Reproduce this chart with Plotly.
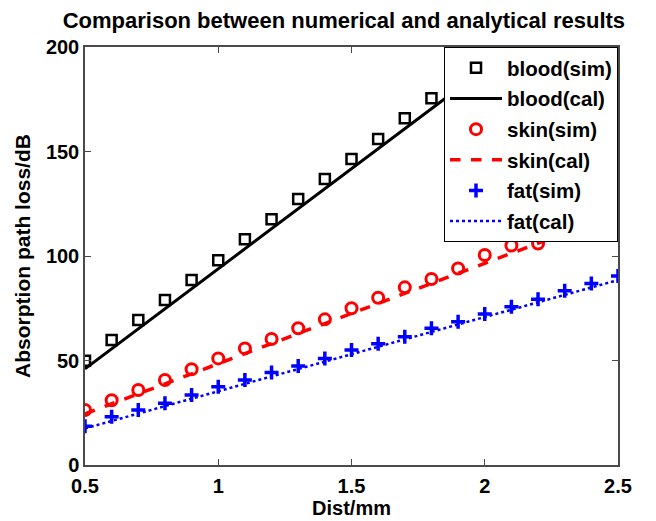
import plotly.graph_objects as go

dist = [0.5, 0.6, 0.7, 0.8, 0.9, 1.0, 1.1, 1.2, 1.3, 1.4, 1.5, 1.6, 1.7, 1.8, 1.9, 2.0, 2.1, 2.2, 2.3, 2.4, 2.5]

blood_sim = [49.9, 59.8, 69.4, 79.0, 88.5, 98.0, 108.0, 117.6, 127.3, 136.8, 146.4, 156.0, 165.9, 175.5, 185.3, 195.0]
blood_cal = [46.0, 55.6, 65.1, 74.7, 84.3, 93.9, 103.4, 113.0, 122.6, 132.1, 141.7, 151.3, 160.8, 170.4, 180.0, 189.6, 199.1, 208.7]
skin_sim = [26.3, 31.0, 35.9, 40.7, 45.8, 51.0, 55.8, 60.3, 65.4, 69.7, 75.0, 80.0, 85.0, 89.0, 94.0, 100.5, 105.0, 106.0, 110.0, 113.0, 117.0]
skin_cal = [24.5, 29.2, 34.0, 38.8, 43.6, 48.5, 53.3, 58.1, 62.9, 67.7, 72.5, 77.3, 82.1, 86.9, 91.7, 96.5, 101.3, 106.1, 110.9, 115.7, 120.5]
fat_sim = [18.5, 23.1, 26.3, 29.5, 33.5, 37.5, 40.7, 44.2, 47.4, 51.0, 55.0, 58.0, 61.4, 65.4, 68.6, 72.2, 75.7, 79.3, 83.4, 86.9, 90.4]
fat_cal = [17.5, 21.1, 24.6, 28.2, 31.7, 35.3, 38.8, 42.4, 45.9, 49.5, 53.0, 56.6, 60.1, 63.7, 67.2, 70.8, 74.3, 77.9, 81.4, 85.0, 88.5]

x_ticks = [0.5, 1, 1.5, 2, 2.5]
x_tick_text = ["0.5", "1", "1.5", "2", "2.5"]
y_ticks = [0, 50, 100, 150, 200]

FONT = "Liberation Sans"
AXC = "#4a4a4a"

fig = go.Figure()
fig.add_trace(go.Scatter(x=dist[:len(blood_sim)], y=blood_sim, mode="markers", name="blood(sim)",
                         legendgroup="a",
                         marker=dict(symbol="square-open", size=10, color="black", line=dict(width=2.5, color="black"))))
fig.add_trace(go.Scatter(x=dist[:len(blood_cal)], y=blood_cal, mode="lines", name="blood(cal)",
                         legendgroup="b",
                         line=dict(color="black", width=3)))
fig.add_trace(go.Scatter(x=dist, y=skin_sim, mode="markers", name="skin(sim)",
                         legendgroup="c",
                         marker=dict(symbol="circle-open", size=11, color="red", line=dict(width=3, color="red"))))
fig.add_trace(go.Scatter(x=dist, y=skin_cal, mode="lines", name="skin(cal)",
                         legendgroup="d",
                         line=dict(color="red", width=3.5, dash="dash")))
fig.add_trace(go.Scatter(x=dist, y=fat_sim, mode="markers", name="fat(sim)",
                         legendgroup="e",
                         marker=dict(symbol="cross-thin-open", size=10, color="blue", line=dict(width=3.5, color="blue"))))
fig.add_trace(go.Scatter(x=dist, y=fat_cal, mode="lines", name="fat(cal)",
                         legendgroup="f",
                         line=dict(color="blue", width=2.5, dash="dot")))

fig.update_layout(
    width=656, height=521,
    margin=dict(l=77, r=46, t=39, b=64),
    paper_bgcolor="white", plot_bgcolor="white",
    font=dict(family=FONT, color="black"),
    title=dict(text="<b>Comparison between numerical and analytical results</b>",
               x=0.512, xanchor="center", y=0.977, yanchor="middle",
               font=dict(family=FONT, size=22, color="black")),
    showlegend=True,
    legend=dict(x=1.0, y=1.0, xanchor="right", yanchor="top",
                bgcolor="white", bordercolor="black", borderwidth=1,
                font=dict(family=FONT, size=20.5, color="black", weight="bold"),
                traceorder="grouped", tracegroupgap=1, itemwidth=52),
)
fig.update_xaxes(range=[0.5, 2.5], tickvals=x_ticks, ticktext=x_tick_text,
                 showgrid=False, zeroline=False, showline=True, linecolor=AXC, linewidth=1.5,
                 mirror="ticks", ticks="inside", ticklen=6, tickcolor=AXC, automargin=False,
                 ticklabelstandoff=2,
                 tickfont=dict(family=FONT, size=20, color="black", weight="bold"),
                 title=dict(text="<b>Dist/mm</b>", font=dict(family=FONT, size=20, color="black"), standoff=0))
fig.update_yaxes(range=[0, 200], tickvals=y_ticks,
                 showgrid=False, zeroline=False, showline=True, linecolor=AXC, linewidth=1.5,
                 mirror="ticks", ticks="inside", ticklen=6, tickcolor=AXC, automargin=False,
                 tickfont=dict(family=FONT, size=20, color="black", weight="bold"),
                 title=dict(text="<b>Absorption path loss/dB</b>", font=dict(family=FONT, size=21, color="black"), standoff=10))

fig.write_html("out.html")
